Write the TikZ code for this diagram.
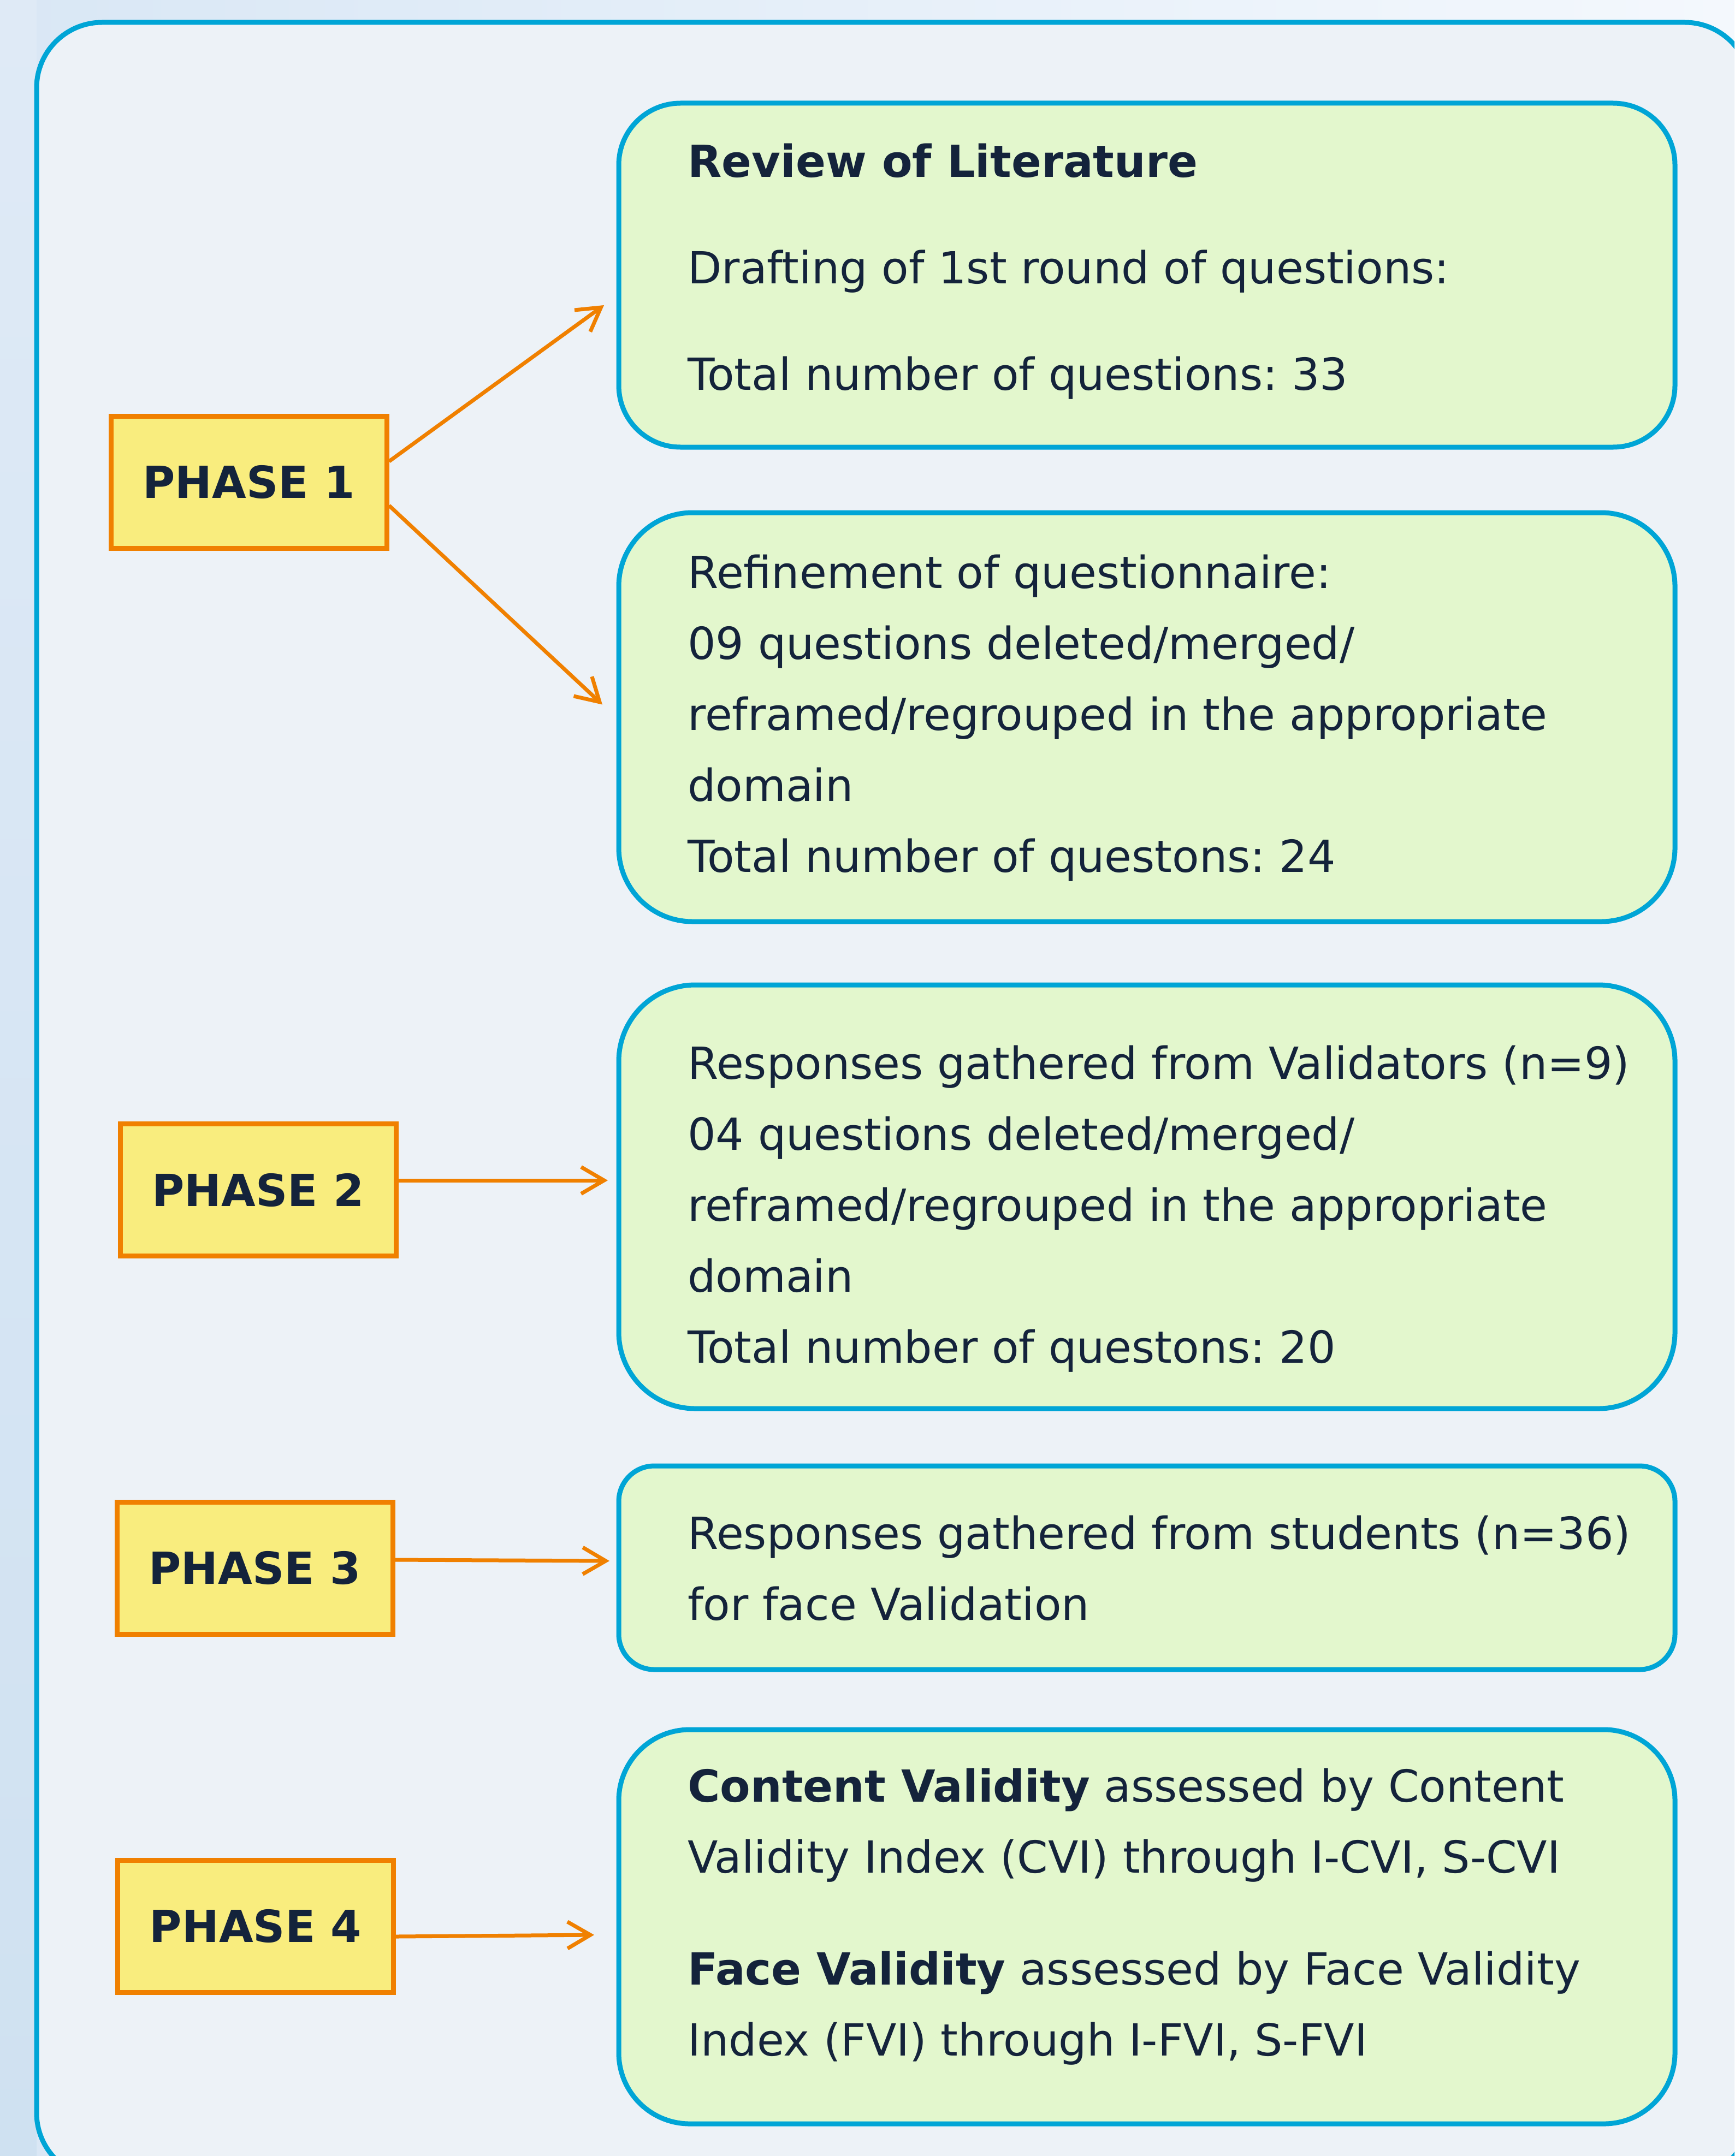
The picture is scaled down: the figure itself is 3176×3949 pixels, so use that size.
\documentclass[tikz,border=0pt]{standalone}
\usepackage{fontspec}
\setmainfont{DejaVu Sans}
\usetikzlibrary{arrows.meta,calc}
\frenchspacing
\definecolor{bgleft}{HTML}{D9E7F5}
\definecolor{bgright}{HTML}{F4F8FD}
\definecolor{stripA}{HTML}{DFEAF6}
\definecolor{stripB}{HTML}{B6D3EC}
\definecolor{stripC}{HTML}{CFE1F1}
\definecolor{framefill}{HTML}{EDF2F7}
\definecolor{boxline}{HTML}{00A5D6}
\definecolor{boxfill}{HTML}{E3F7CD}
\definecolor{phasefill}{HTML}{F9ED7E}
\definecolor{phaseline}{HTML}{F08000}
\definecolor{txt}{HTML}{14233B}
\newcommand{\txtline}[1]{\hbox{#1}}
\begin{document}
\begin{tikzpicture}[x=0.5pt,y=-0.5pt,
  phasebox/.style={draw=phaseline, fill=phasefill, line width=4.5pt,
    minimum width=252.5pt, minimum height=121pt, inner sep=0pt,
    font=\fontsize{40.5pt}{48pt}\selectfont\bfseries, text=txt},
  infobox/.style={draw=boxline, fill=boxfill, line width=4.5pt, outer sep=0pt,
    minimum width=967pt, anchor=north west, inner sep=0pt},
  infotext/.style={anchor=base west, inner sep=0pt, text=txt,
    font=\fontsize{40.5pt}{65pt}\selectfont\frenchspacing},
  link/.style={draw=phaseline, line width=3.5pt,
    -{Straight Barb[length=21pt,width=24.5pt]}}
]
\useasboundingbox (0,0) rectangle (3176,3949);
\clip (0,0) rectangle (3176,3949);
% background
\shade[left color=bgleft, right color=bgright] (0,0) rectangle (3176,3949);
\shade[top color=stripA, middle color=stripB, bottom color=stripC] (0,0) rectangle (67,3949);
% outer frame
\draw[draw=boxline, fill=framefill, line width=4.5pt, rounded corners=60pt] (67,41) rectangle (3205,3990);

% phase boxes
\node[phasebox] (p1) at (455.5,883) {PHASE 1};
\node[phasebox] (p2) at (472.5,2179.5) {PHASE 2};
\node[phasebox] (p3) at (466.5,2872) {PHASE 3};
\node[phasebox] (p4) at (468,3528) {PHASE 4};

% info boxes
\node[infobox, minimum height=315pt, rounded corners=56.5pt] (b1) at (1133,189) {};
\node[infobox, minimum height=374.5pt, rounded corners=67.5pt] (b2) at (1133,939) {};
\node[infobox, minimum height=388pt, rounded corners=70pt] (b3) at (1133,1804) {};
\node[infobox, minimum height=186.5pt, rounded corners=32.5pt] (b4) at (1133,2685) {};
\node[infobox, minimum height=361pt, rounded corners=65pt] (b5) at (1133,3168) {};

% texts (first baseline at the given point)
\node[infotext] (t1) at (1259,325) {\vtop{\txtline{\bfseries Review of Literature}\vskip32.5pt
  \txtline{Drafting of 1st round of questions:}\vskip32.5pt
  \txtline{Total number of questions: 33}}};
\node[infotext] (t2) at (1259,1077) {\vtop{\txtline{Refinement of questionnaire:}
  \txtline{09 questions deleted/merged/}
  \txtline{reframed/regrouped in the appropriate}
  \txtline{domain}
  \txtline{Total number of questons: 24}}};
\node[infotext] (t3) at (1259,1976) {\vtop{\txtline{Responses gathered from Validators (n=9)}
  \txtline{04 questions deleted/merged/}
  \txtline{reframed/regrouped in the appropriate}
  \txtline{domain}
  \txtline{Total number of questons: 20}}};
\node[infotext] (t4) at (1259,2837) {\vtop{\txtline{Responses gathered from students (n=36)}
  \txtline{for face Validation}}};
\node[infotext] (t5) at (1259,3300) {\vtop{\txtline{\textbf{Content Validity} assessed by Content}
  \txtline{Validity Index (CVI) through I-CVI, S-CVI}\vskip37.5pt
  \txtline{\textbf{Face Validity} assessed by Face Validity}
  \txtline{Index (FVI) through I-FVI, S-FVI}}};

% connectors
\draw[link] ($(p1.east)+(0,-38)$) -- ($(b1.west)+(-27,55)$);
\draw[link] ($(p1.east)+(0,43)$) -- ($(b2.west)+(-30,-23)$);
\draw[link] ($(p2.east)+(0,-17.5)$) -- ($(b3.west)+(-20,-30)$);
\draw[link] ($(p3.east)+(0,-15)$) -- ($(b4.west)+(-17,-12.5)$);
\draw[link] ($(p4.east)+(0,19)$) -- ($(b5.west)+(-45,15)$);
\end{tikzpicture}
\end{document}
